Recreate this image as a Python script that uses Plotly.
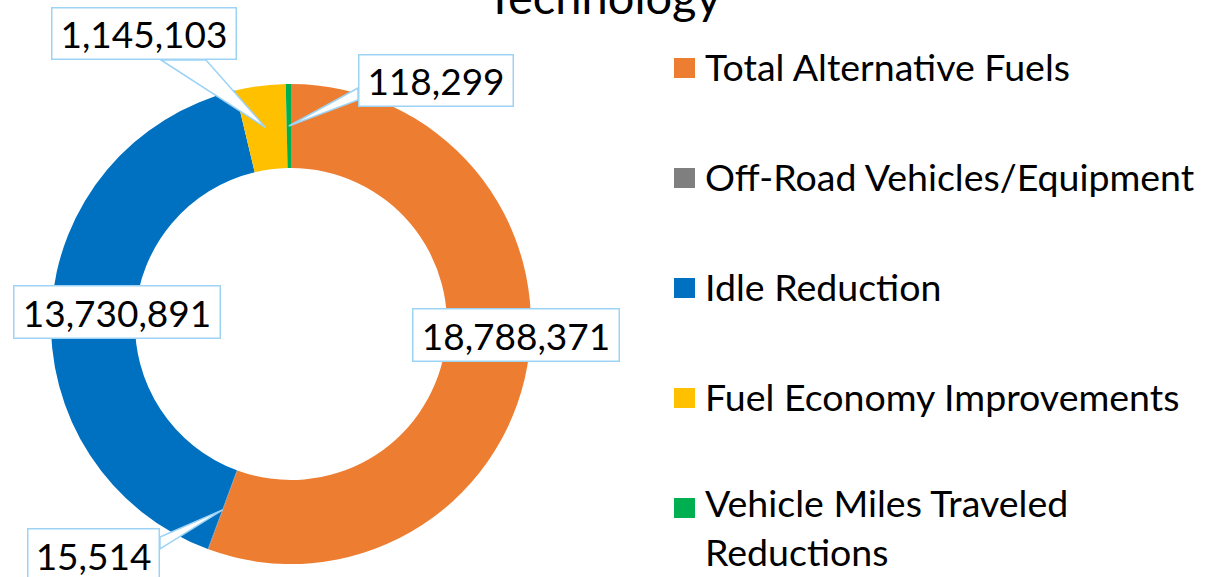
import math
import plotly.graph_objects as go

# ---------------- data ----------------
categories = [
    "Total Alternative Fuels",
    "Off-Road Vehicles/Equipment",
    "Idle Reduction",
    "Fuel Economy Improvements",
    "Vehicle Miles Traveled Reductions",
]
values = [18788371, 15514, 13730891, 1145103, 118299]
legend_text = [
    "Total Alternative Fuels",
    "Off-Road Vehicles/Equipment",
    "Idle Reduction",
    "Fuel Economy Improvements",
    "Vehicle Miles Traveled<br>Reductions",
]
title_text = "Technology"

# ---------------- style / layout ----------------
colors = ["#ED7D31", "#7F7F7F", "#0070C0", "#FFC000", "#00B050"]
FONT = "Lato, Carlito, 'Open Sans', sans-serif"
BOX_COLOR = "#9DD3F5"
W, H = 1227, 577
CX, CY, R = 291, 324, 240      # donut centre and outer radius (px)
HOLE = 0.65
FS = 37
FS_LEG = 37.5
FS_TITLE = 47

def px(x):
    return x / W

def py(y):
    return 1 - y / H

# label box placement (px): centre, size, wedge base points
label_layout = [
    dict(c=(516, 335), size=(208, 54), base=None),
    dict(c=(93.5, 555), size=(133, 54), base=((160, 537), (160, 549))),
    dict(c=(117, 312), size=(208, 54), base=None),
    dict(c=(144, 33.5), size=(186, 53), base=((161, 60), (206, 60))),
    dict(c=(436, 80.5), size=(156, 53), base=((358, 88), (358, 100))),
]
legend_y = [66, 176, 286, 396, 527]
legend_marker_y = [68, 178, 288, 398, 508]

fig = go.Figure(
    go.Pie(
        labels=categories,
        values=values,
        marker=dict(colors=colors, line=dict(width=0)),
        hole=HOLE,
        sort=False,
        direction="clockwise",
        rotation=0,
        textinfo="none",
        hoverinfo="label+value",
        showlegend=False,
        domain=dict(x=[px(CX - R), px(CX + R)], y=[py(CY + R), py(CY - R)]),
    )
)

total = sum(values)
r_mid = R * (1 + HOLE) / 2
cum = 0.0
shapes = []
annotations = []
BW, PAD = 1.5, 2
for i, v in enumerate(values):
    theta = 2 * math.pi * (cum + v / 2) / total
    cum += v
    tx = CX + r_mid * math.sin(theta)
    ty = CY - r_mid * math.cos(theta)
    lay = label_layout[i]
    if lay["base"] is not None:
        (x1, y1), (x2, y2) = lay["base"]
        path = (f"M {px(x1)},{py(y1)} L {px(tx)},{py(ty)} "
                f"L {px(x2)},{py(y2)} Z")
        shapes.append(dict(type="path", path=path, xref="paper", yref="paper",
                           fillcolor="white", line=dict(color=BOX_COLOR, width=1.5),
                           layer="above"))
    bw, bh = lay["size"]
    annotations.append(dict(
        text=f"{v:,}", x=px(lay["c"][0]), y=py(lay["c"][1]),
        xref="paper", yref="paper", xanchor="center", yanchor="middle",
        showarrow=False, font=dict(family=FONT, size=FS, color="black"),
        bgcolor="white", bordercolor=BOX_COLOR, borderwidth=BW, borderpad=PAD,
        width=bw - 2 * (BW + PAD), height=bh - 2 * (BW + PAD),
    ))

# manual legend
for i, name in enumerate(legend_text):
    my = legend_marker_y[i]
    shapes.append(dict(type="rect", xref="paper", yref="paper",
                       x0=px(674), x1=px(695), y0=py(my + 10), y1=py(my - 10),
                       fillcolor=colors[i], line=dict(width=0)))
    annotations.append(dict(
        text=name, x=px(703), y=py(legend_y[i]), xref="paper", yref="paper",
        xanchor="left", yanchor="middle", align="left", showarrow=False,
        font=dict(family=FONT, size=FS_LEG, color="black"),
    ))

# title (partly cut off at the top, as in the reference)
annotations.append(dict(
    text=title_text, x=px(603), y=py(-4), xref="paper", yref="paper",
    xanchor="center", yanchor="middle", showarrow=False,
    font=dict(family=FONT, size=FS_TITLE, color="black"),
))

fig.update_layout(
    width=W, height=H, autosize=False,
    margin=dict(l=0, r=0, t=0, b=0),
    paper_bgcolor="white", plot_bgcolor="white",
    shapes=shapes, annotations=annotations,
    showlegend=False,
)

fig.write_html(
    "out.html",
    config={"displayModeBar": False},
    post_script="document.body.style.margin='0';document.body.style.overflow='hidden';",
)
